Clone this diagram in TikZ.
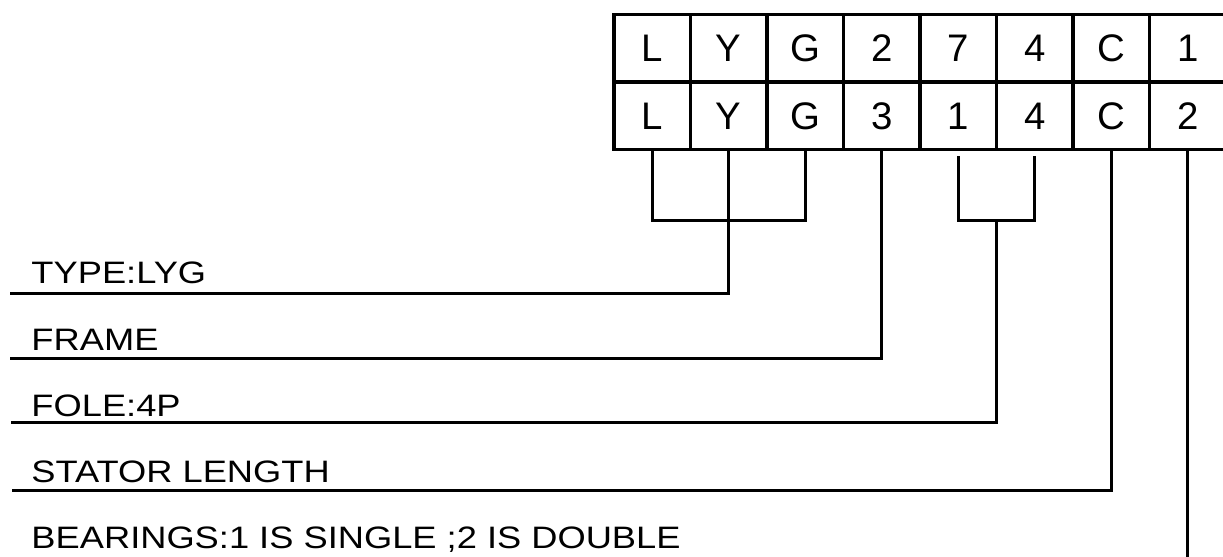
\documentclass[tikz,border=0pt]{standalone}
\usepackage{fontspec}
\setmainfont{Liberation Sans}
\newfontfamily\widefont[FakeStretch=1.17]{Liberation Sans}
\usetikzlibrary{calc}
\begin{document}
\begin{tikzpicture}[x=0.5pt, y=-0.5pt, line width=1.5pt,
  cell/.style={draw, line width=1.6pt, minimum width=38.3pt, minimum height=33.75pt,
    inner sep=0pt, font=\fontsize{19.2}{20}\selectfont},
  lbl/.style={anchor=base west, inner sep=0pt, font=\widefont\fontsize{15.5}{18}\selectfont}]
  \useasboundingbox (0,0) rectangle (1223,557);
  % 형번 표
  \foreach \ch [count=\i] in {L,Y,G,2,7,4,C,1}
    \node[cell] (t\i) at ({614+76.5*(\i-0.5)},48.3) {\raisebox{-1.2pt}{\ch}};
  \foreach \ch [count=\i] in {L,Y,G,3,1,4,C,2}
    \node[cell] (b\i) at ({614+76.5*(\i-0.5)},115.8) {\raisebox{-1.2pt}{\ch}};
  % 설명
  \node[lbl] (type) at (30,283.3) {TYPE:LYG};
  \node[lbl] (frame) at (30,350) {FRAME};
  \node[lbl] (pole) at (30,416.7) {FOLE:4P};
  \node[lbl] (stator) at (30,482.7) {STATOR LENGTH};
  \node[lbl] (bearing) at (30,548.3) {BEARINGS:1 IS SINGLE ;2 IS DOUBLE};
  \coordinate (typeend) at (10,293.3);
  \coordinate (frameend) at (10,358.3);
  \coordinate (poleend) at (11,422);
  \coordinate (statorend) at (12,490.7);
  \coordinate (bearend) at (b8 |- 0,560);
  \coordinate (lyg) at (b2 |- 0,220);
  \coordinate (fp) at ($(b5)!0.5!(b6)$);
  \coordinate (fpj) at (fp |- 0,220);
  % 연결선
  \draw (b1.south) |- (lyg) -| (b3.south);
  \draw (b2.south) |- (typeend);
  \draw (b4.south) |- (frameend);
  \draw ([yshift=-2.5pt]b5.south) |- (fpj) -| ([yshift=-2.5pt]b6.south);
  \draw (fpj) |- (poleend);
  \draw (b7.south) |- (statorend);
  \draw (b8.south) -- (bearend);
\end{tikzpicture}
\end{document}
